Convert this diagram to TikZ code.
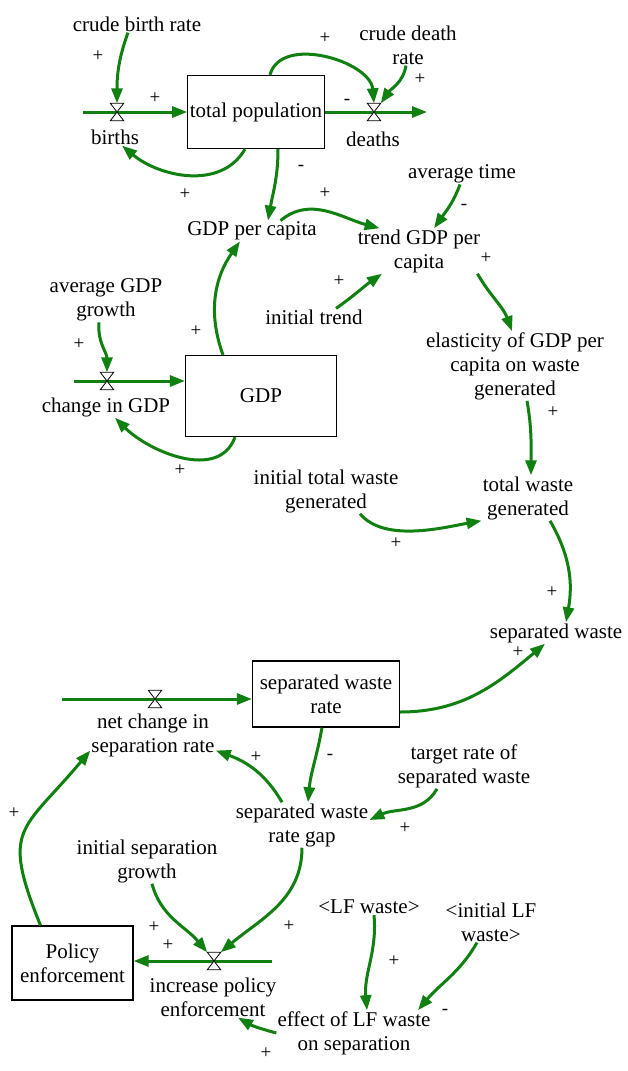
\documentclass[tikz,border=0pt]{standalone}
\usepackage{fontspec}
\setmainfont{Liberation Serif}
\usetikzlibrary{arrows.meta}
\definecolor{linkgreen}{RGB}{16,128,16}
\tikzset{
  link/.style={draw=linkgreen,line width=3pt,-{Triangle[length=15pt,width=11pt]}},
  stock/.style={draw=black,line width=1.2pt,fill=white,align=center,inner sep=2pt},
  lbl/.style={align=center,inner sep=1pt},
  sgn/.style={inner sep=0pt,font=\fontsize{19}{19}\selectfont},
  valve/.style={minimum width=13pt,minimum height=17pt,inner sep=0pt}
}
\begin{document}
\begin{tikzpicture}[x=1pt,y=1pt,font=\fontsize{21}{24}\selectfont]
\fill[white] (0,0) rectangle (628,-1071);
\useasboundingbox (0,0) rectangle (628,-1071);

\node [stock,minimum width=136pt,minimum height=73pt] (pop) at (256,-112) {total population};
\node [stock,minimum width=151pt,minimum height=81pt] (gdp) at (261,-396) {GDP};
\node [stock,minimum width=147pt,minimum height=66pt] (swr) at (326,-694) {separated waste\\rate};
\node [stock,minimum width=121pt,minimum height=74pt] (pol) at (72.5,-963) {Policy\\enforcement};

\node [valve] (vbirths) at (117,-112) {};
\node [valve] (vdeaths) at (374,-112) {};
\node [valve] (vgdp) at (107,-381) {};
\node [valve] (vnet) at (155,-699) {};
\node [valve] (vinc) at (214,-961) {};

\coordinate (bsrc) at (83,-112);
\coordinate (dsink) at (427,-112);
\coordinate (gsrc) at (74,-381);
\coordinate (nsrc) at (62,-699);
\coordinate (isrc) at (272,-961);

\begin{scope}[lbl]
\node (births) at (115,-137) {births};
\node (deaths) at (373,-139) {deaths};
\node (chgdp) at (106,-407) {change in GDP};
\node (netch) at (153,-735.5) {net change in\\separation rate};
\node (incpol) at (213,-997) {increase policy\\enforcement};
\node (cbr) at (137,-24) {crude birth rate};
\node (cdr) at (408,-45) {crude death\\rate};
\node (gpc) at (252,-231) {GDP per capita};
\node (trend) at (419,-251) {trend GDP per\\capita};
\node (avt) at (462,-174) {average time};
\node (itrend) at (314,-317) {initial trend};
\node (elas) at (515,-366) {elasticity of GDP per\\capita on waste\\generated};
\node (agdp) at (106,-300) {average GDP\\growth};
\node (itw) at (326,-491) {initial total waste\\generated};
\node (tw) at (528,-498) {total waste\\generated};
\node (sw) at (556,-633) {separated waste};
\node (trsw) at (464,-766) {target rate of\\separated waste};
\node (gap) at (302,-825) {separated waste\\rate gap};
\node (isg) at (147,-861) {initial separation\\growth};
\node (lfw) at (369,-907) {<LF waste>};
\node (ilfw) at (491,-922) {<initial LF\\waste>};
\node (eff) at (354,-1033) {effect of LF waste\\on separation};
\end{scope}

\draw [link] (bsrc) -- (bsrc -| pop.west);
\draw [link] (pop.east) -- (dsink);
\draw [link] (gsrc) -- (gsrc -| gdp.west);
\draw [link] (nsrc) -- (nsrc -| swr.west);
\draw [link] (isrc) -- (isrc -| pol.east);

\foreach \v in {vbirths,vdeaths,vgdp,vnet,vinc}
  \draw [black,line width=0.8pt,fill=white] (\v.north west) -- (\v.north east) -- (\v.south west) -- (\v.south east) -- cycle;

\draw [link] ([xshift=-9pt]cbr.south) to[out=250,in=90] (vbirths.north);
\draw [link] ([xshift=14pt]pop.north) to[out=75,in=95] (vdeaths.north);
\draw [link] ([xshift=-2pt]cdr.south) to[out=260,in=55] (vdeaths.north east);
\draw [link] ([xshift=-11pt]pop.south) to[out=240,in=320] ([xshift=7pt]births.south);
\draw [link] ([xshift=22pt]pop.south) to[out=270,in=80] ([xshift=16pt]gpc.north);
\draw [link] (gpc.20) to[out=40,in=165] (trend.150);
\draw [link] ([xshift=-2pt]avt.south) to[out=250,in=55] ([xshift=15pt]trend.north);
\draw [link] ([xshift=22pt]itrend.north) to[out=35,in=215] ([xshift=-37pt]trend.south);
\draw [link] ([xshift=-4pt]trend.south east) to[out=300,in=110] ([xshift=-3pt]elas.north);
\draw [link] ([xshift=12pt]elas.south) to[out=280,in=90] ([xshift=3pt]tw.north);
\draw [link] ([xshift=34pt]itw.south) to[out=310,in=190,looseness=0.8] (tw.south west);
\draw [link] ([xshift=22pt]tw.south) to[out=300,in=80] ([xshift=10pt]sw.north);
\draw [link] ([yshift=-18pt]swr.east) to[out=0,in=220] ([xshift=-11pt]sw.south);
\draw [link] ([xshift=-38pt]gdp.north) to[out=110,in=235] ([xshift=-12pt]gpc.south);
\draw [link] ([xshift=-7pt]agdp.south) to[out=265,in=90] (vgdp.north);
\draw [link] ([xshift=-26pt]gdp.south) to[out=250,in=315] ([xshift=9pt]chgdp.south);
\draw [link] ([xshift=-4pt]swr.south) to[out=260,in=85] ([xshift=6pt]gap.north);
\draw [link] ([xshift=-27pt]trsw.south) to[out=240,in=25] ([yshift=5pt]gap.east);
\draw [link] ([xshift=-20pt]gap.north) to[out=120,in=-20] ([yshift=-15pt]netch.east);
\draw [link] ([xshift=-32pt]pol.north) to[out=112,in=230,looseness=1.5] ([yshift=-15pt]netch.west);
\draw [link] ([xshift=5pt]isg.south) to[out=285,in=130] (vinc.north west);
\draw [link] (gap.south) to[out=270,in=40] (vinc.north east);
\draw [link] ([xshift=5pt]lfw.south) to[out=275,in=95] ([xshift=13pt]eff.north);
\draw [link] ([xshift=-14pt]ilfw.south) to[out=240,in=50] ([xshift=64pt]eff.north);
\draw [link] (eff.west) to[out=165,in=330] ([xshift=25pt]incpol.south);

\foreach \x/\y/\s [count=\i] in {98/56/+,155/98/+,325/38/+,347/102/-,420/79/+,185/194/+,
    301/168/-,325/193/+,464/207/-,486/258/+,339/281/+,79/344/+,196/331/+,553/412/+,
    180/470/+,396/543/+,552/592/+,518/652/+,330/757/-,256/757/+,405/828/+,14/813/+,
    154/927/+,168/945/+,289/926/+,394/961/+,445/1012/-,266/1053/+}
  \node [sgn] (s\i) at (\x,-\y) {\s};
\end{tikzpicture}
\end{document}
